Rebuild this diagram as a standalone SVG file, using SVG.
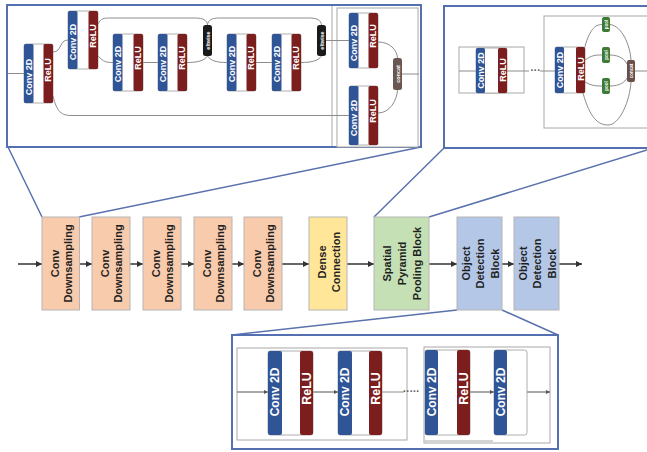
<svg xmlns="http://www.w3.org/2000/svg" width="647" height="452" viewBox="0 0 647 452">
<defs>
<style>
.panel{fill:#fff;stroke:#5470b0;stroke-width:2}
.zl{fill:none;stroke:#5a72ad;stroke-width:1.5}
.box{fill:#fff;stroke:#a8a8a8;stroke-width:1}
.blk{fill:#fff;stroke:#9a9a9a;stroke-width:0.8}
.cv{fill:#2f5597}
.rl{fill:#7d1e1e}
.wl{fill:none;stroke:#8c8c8c;stroke-width:1}
.wa{fill:none;stroke:#555;stroke-width:1;marker-end:url(#sa)}
.mb{stroke:#b5b5b5;stroke-width:1}
.lab{font-family:"Liberation Sans",Arial,sans-serif;font-weight:bold;font-size:11px;fill:#1f1f1f;text-anchor:middle;dominant-baseline:central}
.wt{font-family:"Liberation Sans",Arial,sans-serif;font-weight:bold;fill:#fff;text-anchor:middle;dominant-baseline:central}
.dots{font-family:"Liberation Sans",Arial,sans-serif;font-size:10px;font-weight:bold;fill:#555;dominant-baseline:central}
.ar{fill:none;stroke:#333;stroke-width:1.5;marker-end:url(#ah)}
.pe{fill:#f8cbad}.de{fill:#ffe699}.sp{fill:#c5e0b4}.od{fill:#b4c7e7}
</style>
<marker id="ah" viewBox="0 0 10 10" refX="10" refY="5" markerWidth="6" markerHeight="6" markerUnits="userSpaceOnUse" orient="auto"><path d="M0,0 L10,5 L0,10 z" fill="#333"/></marker>
<marker id="sa" viewBox="0 0 10 10" refX="10" refY="5" markerWidth="4" markerHeight="4" markerUnits="userSpaceOnUse" orient="auto"><path d="M0,0 L10,5 L0,10 z" fill="#555"/></marker>
</defs>
<rect width="647" height="452" fill="#fff"/>

<!-- zoom connector lines -->
<g id="zoom-lines">
<path class="zl" d="M8,147 L42,217 M421,147 L79,217"/>
<path class="zl" d="M444,148 L374,217 M647,150 L429,217"/>
<path class="zl" d="M457,310 L232,335 M502,310 L558,335"/>
</g>

<!-- Top-left panel: conv downsampling detail -->
<g id="panel-conv-downsampling">
<rect class="panel" x="7" y="5" width="414" height="142"/>
<line x1="332" y1="6" x2="332" y2="146" stroke="#a8a8a8" stroke-width="1"/>
<rect class="box" x="337" y="8" width="81" height="139"/>
<g id="tl-lines">
<path class="wl" d="M8,73.5 H24"/>
<path class="wl" d="M53,52 C62,52 59,40 68,40"/>
<path class="wl" d="M53,96 C57,112 61,115.5 72,115.5 H349"/>
<path class="wl" d="M98,24 C101,18 104,18 111,18 H195 C203,18 207,20 207.5,25"/>
<path class="wl" d="M98,56 C104,62 106,62.5 113,62.5"/>
<path class="wl" d="M143,62.5 H158"/>
<path class="wl" d="M187,62.5 C197,62.5 204,61 207.5,56"/>
<path class="wl" d="M207.5,25 C208,20 212,18 219,18 H309 C317,18 321,20 321.5,25"/>
<path class="wl" d="M207.5,56 C211,61 217,62.5 227,62.5"/>
<path class="wl" d="M256,62.5 H272"/>
<path class="wl" d="M301,62.5 C311,62.5 318,61 321.5,56"/>
<path class="wl" d="M326,40.5 H349"/>
<path class="wl" d="M378,42 C390,42 397,50 397.5,58"/>
<path class="wl" d="M378,113 C390,113 397,100 397.5,90"/>
<path class="wl" d="M402,74 H419"/>
</g>
<g id="tl-b1"><rect class="blk" x="24" y="44" width="29" height="59" rx="2"/><rect class="cv" x="24" y="44" width="9.5" height="59" rx="1.5"/><rect class="rl" x="43.5" y="44" width="9.5" height="59" rx="1.5"/><text class="wt" font-size="9" transform="translate(28.8,77) rotate(-90)">Conv 2D</text><text class="wt" font-size="9" transform="translate(48.3,70) rotate(-90)">ReLU</text></g>
<g id="tl-b2"><rect class="blk" x="68" y="11" width="30" height="58" rx="2"/><rect class="cv" x="68" y="11" width="9.5" height="58" rx="1.5"/><rect class="rl" x="88.5" y="11" width="9.5" height="58" rx="1.5"/><text class="wt" font-size="9" transform="translate(72.8,42) rotate(-90)">Conv 2D</text><text class="wt" font-size="9" transform="translate(93.3,36) rotate(-90)">ReLU</text></g>
<g id="tl-b3"><rect class="blk" x="113" y="34" width="30" height="57" rx="2"/><rect class="cv" x="113" y="34" width="9.5" height="57" rx="1.5"/><rect class="rl" x="133.5" y="34" width="9.5" height="57" rx="1.5"/><text class="wt" font-size="9" transform="translate(117.8,64) rotate(-90)">Conv 2D</text><text class="wt" font-size="9" transform="translate(138.3,58) rotate(-90)">ReLU</text></g>
<g id="tl-b4"><rect class="blk" x="158" y="34" width="29" height="57" rx="2"/><rect class="cv" x="158" y="34" width="9.5" height="57" rx="1.5"/><rect class="rl" x="177.5" y="34" width="9.5" height="57" rx="1.5"/><text class="wt" font-size="9" transform="translate(162.8,64) rotate(-90)">Conv 2D</text><text class="wt" font-size="9" transform="translate(182.3,58) rotate(-90)">ReLU</text></g>
<g id="tl-elt1"><rect x="203" y="25" width="9" height="31" rx="2.5" fill="#1a1a1a"/><text class="wt" font-size="5.5" transform="translate(207.5,40.5) rotate(-90)">eltwise</text></g>
<g id="tl-b5"><rect class="blk" x="227" y="34" width="29" height="57" rx="2"/><rect class="cv" x="227" y="34" width="9.5" height="57" rx="1.5"/><rect class="rl" x="246.5" y="34" width="9.5" height="57" rx="1.5"/><text class="wt" font-size="9" transform="translate(231.8,64) rotate(-90)">Conv 2D</text><text class="wt" font-size="9" transform="translate(251.3,58) rotate(-90)">ReLU</text></g>
<g id="tl-b6"><rect class="blk" x="272" y="34" width="29" height="57" rx="2"/><rect class="cv" x="272" y="34" width="9.5" height="57" rx="1.5"/><rect class="rl" x="291.5" y="34" width="9.5" height="57" rx="1.5"/><text class="wt" font-size="9" transform="translate(276.8,64) rotate(-90)">Conv 2D</text><text class="wt" font-size="9" transform="translate(296.3,58) rotate(-90)">ReLU</text></g>
<g id="tl-elt2"><rect x="317" y="25" width="9" height="31" rx="2.5" fill="#1a1a1a"/><text class="wt" font-size="5.5" transform="translate(321.5,40.5) rotate(-90)">eltwise</text></g>
<g id="tl-b7"><rect class="blk" x="349" y="13" width="29" height="55" rx="2"/><rect class="cv" x="349" y="13" width="9.5" height="55" rx="1.5"/><rect class="rl" x="368.5" y="13" width="9.5" height="55" rx="1.5"/><text class="wt" font-size="9" transform="translate(353.8,43) rotate(-90)">Conv 2D</text><text class="wt" font-size="9" transform="translate(373.3,36) rotate(-90)">ReLU</text></g>
<g id="tl-b8"><rect class="blk" x="349" y="86" width="29" height="59" rx="2"/><rect class="cv" x="349" y="86" width="9.5" height="59" rx="1.5"/><rect class="rl" x="368.5" y="86" width="9.5" height="59" rx="1.5"/><text class="wt" font-size="9" transform="translate(353.8,118) rotate(-90)">Conv 2D</text><text class="wt" font-size="9" transform="translate(373.3,111) rotate(-90)">ReLU</text></g>
<g id="tl-concat"><rect x="393" y="58" width="9" height="32" rx="2.5" fill="#6b5752"/><text class="wt" font-size="5.5" transform="translate(397.5,74) rotate(-90)">concat</text></g>
</g>

<!-- Top-right panel: spatial pyramid pooling detail -->
<g id="panel-spp">
<rect class="panel" x="444" y="6" width="215" height="142"/>
<rect class="box" x="459" y="47" width="65" height="46"/>
<rect class="box" x="544" y="16" width="120" height="112"/>
<g id="tr-lines">
<path class="wl" d="M459,71 H476 M507,71 H529 M540,71 H555"/>
<path class="wl" d="M584,50 C589,30 595,24.5 602,24.5"/>
<path class="wl" d="M610,24.5 C622,26 630,45 631,60"/>
<path class="wl" d="M585,60 C592,55 596,55 602,55"/>
<path class="wl" d="M610,55 C620,55 625,60 627,64"/>
<path class="wl" d="M585,82 C592,86 596,86 602,86"/>
<path class="wl" d="M610,86 C620,86 625,82 627,78"/>
<path class="wl" d="M583,93 C590,118 598,125 608,125 C620,125 630,100 631,82"/>
<path class="wl" d="M635,71 H647"/>
</g>
<text class="dots" x="530.5" y="70">···</text>
<g id="tr-b1"><rect class="blk" x="476" y="48" width="31" height="45" rx="2"/><rect class="cv" x="476" y="48" width="9" height="45" rx="1.5"/><rect class="rl" x="498" y="48" width="9" height="45" rx="1.5"/><text class="wt" font-size="9" transform="translate(480.5,70.5) rotate(-90)">Conv 2D</text><text class="wt" font-size="9" transform="translate(502.5,70) rotate(-90)">ReLU</text></g>
<g id="tr-b2"><rect class="blk" x="555" y="47" width="30" height="46" rx="2"/><rect class="cv" x="555" y="47" width="9" height="46" rx="1.5"/><rect class="rl" x="576" y="47" width="9" height="46" rx="1.5"/><text class="wt" font-size="9" transform="translate(559.5,70) rotate(-90)">Conv 2D</text><text class="wt" font-size="9" transform="translate(580.5,69) rotate(-90)">ReLU</text></g>
<g id="tr-pool1"><rect x="602" y="17" width="8" height="15" rx="2" fill="#3d7a35"/><text class="wt" font-size="4.5" transform="translate(606,24.5) rotate(-90)">pool</text></g>
<g id="tr-pool2"><rect x="602" y="47" width="8" height="16" rx="2" fill="#3d7a35"/><text class="wt" font-size="4.5" transform="translate(606,55) rotate(-90)">pool</text></g>
<g id="tr-pool3"><rect x="602" y="78" width="8" height="16" rx="2" fill="#3d7a35"/><text class="wt" font-size="4.5" transform="translate(606,86) rotate(-90)">pool</text></g>
<g id="tr-concat"><rect x="627" y="60" width="8" height="22" rx="2" fill="#6a4e48"/><text class="wt" font-size="4.5" transform="translate(631,71) rotate(-90)">concat</text></g>
</g>

<!-- Bottom panel: object detection block detail -->
<g id="panel-odb">
<rect class="panel" x="232" y="335" width="326" height="114"/>
<rect class="box" x="237" y="348" width="170" height="92"/>
<rect class="box" x="424" y="347" width="126" height="96"/>
<line x1="425" y1="441" x2="493" y2="441" stroke="#a8a8a8" stroke-width="1"/>
<g id="bp-lines">
<path class="wa" d="M237,392 H268"/>
<path class="wa" d="M313,392 H338"/>
<path class="wl" d="M382,392 H404"/>
<path class="wa" d="M470,392 H494"/>
<path class="wa" d="M527,392 H550"/>
</g>
<text class="dots" x="403" y="391">·····</text>
<g id="bp-b1"><rect class="blk" x="268" y="351" width="45" height="84" rx="2.5"/><rect class="cv" x="268" y="351" width="14" height="84" rx="2"/><rect class="rl" x="300" y="351" width="13" height="84" rx="2"/><text class="wt" font-size="12" transform="translate(275,392) rotate(-90)">Conv 2D</text><text class="wt" font-size="12.5" transform="translate(306.5,388.5) rotate(-90)">ReLU</text></g>
<g id="bp-b2"><rect class="blk" x="338" y="351" width="44" height="84" rx="2.5"/><rect class="cv" x="338" y="351" width="14" height="84" rx="2"/><rect class="rl" x="369" y="351" width="13" height="84" rx="2"/><text class="wt" font-size="12" transform="translate(345,392) rotate(-90)">Conv 2D</text><text class="wt" font-size="12.5" transform="translate(375.5,388.5) rotate(-90)">ReLU</text></g>
<g id="bp-b3"><rect class="blk" x="425" y="350" width="45" height="85" rx="2.5"/><rect class="cv" x="425" y="350" width="13" height="85" rx="2"/><rect class="rl" x="457" y="350" width="13" height="85" rx="2"/><text class="wt" font-size="12" transform="translate(431.5,392) rotate(-90)">Conv 2D</text><text class="wt" font-size="12.5" transform="translate(463.5,388.5) rotate(-90)">ReLU</text></g>
<g id="bp-b4"><rect class="blk" x="494" y="350" width="33" height="85" rx="2.5"/><rect class="cv" x="494" y="350" width="13" height="85" rx="2"/><text class="wt" font-size="12" transform="translate(500.5,392) rotate(-90)">Conv 2D</text></g>
</g>

<!-- main pipeline connectors -->
<g id="connectors">
<path class="ar" d="M18,264 H42"/>
<path class="ar" d="M79.5,264 H92"/>
<path class="ar" d="M130,264 H143"/>
<path class="ar" d="M181,264 H194"/>
<path class="ar" d="M232,264 H244"/>
<path class="ar" d="M282,264 H309"/>
<path class="ar" d="M347,264 H374"/>
<path class="ar" d="M429,264 H457"/>
<path class="ar" d="M502,264 H514"/>
<path class="ar" d="M559,264 H582"/>
</g>

<!-- main pipeline nodes -->
<g id="conv-ds-1"><rect class="mb pe" x="42" y="217" width="37.5" height="93"/><text class="lab" transform="translate(61,263.5) rotate(-90)"><tspan x="0" y="-6">Conv</tspan><tspan x="0" y="6.5">Downsampling</tspan></text></g>
<g id="conv-ds-2"><rect class="mb pe" x="92" y="217" width="38" height="93"/><text class="lab" transform="translate(111,263.5) rotate(-90)"><tspan x="0" y="-6">Conv</tspan><tspan x="0" y="6.5">Downsampling</tspan></text></g>
<g id="conv-ds-3"><rect class="mb pe" x="143" y="217" width="38" height="93"/><text class="lab" transform="translate(162,263.5) rotate(-90)"><tspan x="0" y="-6">Conv</tspan><tspan x="0" y="6.5">Downsampling</tspan></text></g>
<g id="conv-ds-4"><rect class="mb pe" x="194" y="217" width="38" height="93"/><text class="lab" transform="translate(213,263.5) rotate(-90)"><tspan x="0" y="-6">Conv</tspan><tspan x="0" y="6.5">Downsampling</tspan></text></g>
<g id="conv-ds-5"><rect class="mb pe" x="244" y="217" width="38" height="93"/><text class="lab" transform="translate(263,263.5) rotate(-90)"><tspan x="0" y="-6">Conv</tspan><tspan x="0" y="6.5">Downsampling</tspan></text></g>
<g id="dense"><rect class="mb de" x="309" y="217" width="38" height="93"/><text class="lab" transform="translate(328.5,262) rotate(-90)"><tspan x="0" y="-7">Dense</tspan><tspan x="0" y="7">Connection</tspan></text></g>
<g id="spp"><rect class="mb sp" x="374" y="217" width="55" height="93"/><text class="lab" transform="translate(401.5,263.5) rotate(-90)"><tspan x="0" y="-14.5">Spatial</tspan><tspan x="0" y="0.5">Pyramid</tspan><tspan x="0" y="15.5">Pooling Block</tspan></text></g>
<g id="odb-1"><rect class="mb od" x="457" y="217" width="45" height="93"/><text class="lab" transform="translate(479.5,263.5) rotate(-90)"><tspan x="0" y="-14">Object</tspan><tspan x="0" y="0.5">Detection</tspan><tspan x="0" y="15">Block</tspan></text></g>
<g id="odb-2"><rect class="mb od" x="514" y="217" width="45" height="93"/><text class="lab" transform="translate(536.5,263.5) rotate(-90)"><tspan x="0" y="-14">Object</tspan><tspan x="0" y="0.5">Detection</tspan><tspan x="0" y="15">Block</tspan></text></g>
</svg>
